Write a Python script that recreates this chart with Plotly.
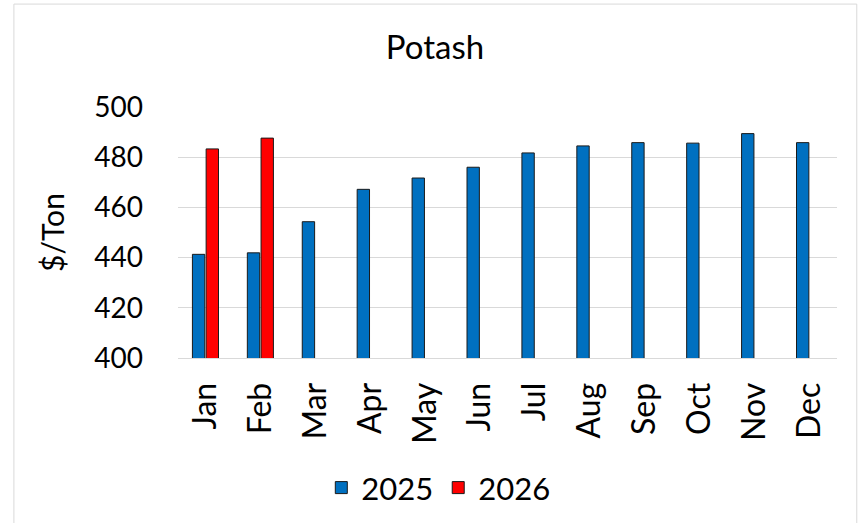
import plotly.graph_objects as go

months = ["Jan", "Feb", "Mar", "Apr", "May", "Jun",
          "Jul", "Aug", "Sep", "Oct", "Nov", "Dec"]
price_2025 = [441.3, 441.9, 454.3, 467.2, 471.7, 476.0,
              481.7, 484.5, 485.8, 485.6, 489.4, 485.8]
months_2026 = ["Jan", "Feb"]
price_2026 = [483.3, 487.6]

FONT = "Lato"

fig = go.Figure()
fig.add_trace(
    go.Bar(
        x=months,
        y=price_2025,
        name="2025",
        marker=dict(color="#0070C0", line=dict(color="#1a1a1a", width=1)),
    )
)
fig.add_trace(
    go.Bar(
        x=months_2026,
        y=price_2026,
        name="2026",
        marker=dict(color="#FF0000", line=dict(color="#1a1a1a", width=1)),
    )
)

fig.update_layout(
    width=861,
    height=523,
    margin=dict(l=178, r=24, t=107, b=165),
    paper_bgcolor="white",
    plot_bgcolor="white",
    font=dict(family=FONT, size=28, color="black"),
    barmode="group",
    bargap=0.5,
    bargroupgap=0.1,
    title=dict(
        text="Potash",
        font=dict(family=FONT, size=33, color="black"),
        xref="paper",
        x=0.39,
        xanchor="center",
        yref="container",
        y=0.91,
        yanchor="middle",
        automargin=False,
    ),
    legend=dict(
        orientation="h",
        xref="paper",
        x=0.395,
        xanchor="center",
        yref="container",
        y=0.067,
        yanchor="middle",
        font=dict(family=FONT, size=31),
        itemwidth=30,
    ),
    shapes=[
        dict(
            type="rect",
            xref="paper",
            yref="paper",
            x0=-0.249,
            x1=1.03,
            y0=-0.8,
            y1=1.41,
            line=dict(color="#d9d9d9", width=1),
            fillcolor="rgba(0,0,0,0)",
            layer="below",
        )
    ],
)

fig.update_xaxes(
    categoryorder="array",
    categoryarray=months,
    tickangle=-90,
    tickfont=dict(size=32),
    ticklabelstandoff=11,
    showline=True,
    linecolor="#d9d9d9",
    linewidth=1,
    ticks="",
    showgrid=False,
    automargin=False,
)
fig.update_yaxes(
    range=[400, 500],
    dtick=20,
    tickfont=dict(size=28),
    showgrid=True,
    gridcolor="#d9d9d9",
    gridwidth=1,
    zeroline=False,
    ticks="",
    ticklabelstandoff=34,
    automargin=False,
    title=dict(text="$/Ton", font=dict(family=FONT, size=30), standoff=20),
)

# drop the default page margin so the figure sits at the window's corner
fig.write_html(
    "out.html",
    config={"displayModeBar": False},
    post_script="document.body.style.margin='0';",
)
